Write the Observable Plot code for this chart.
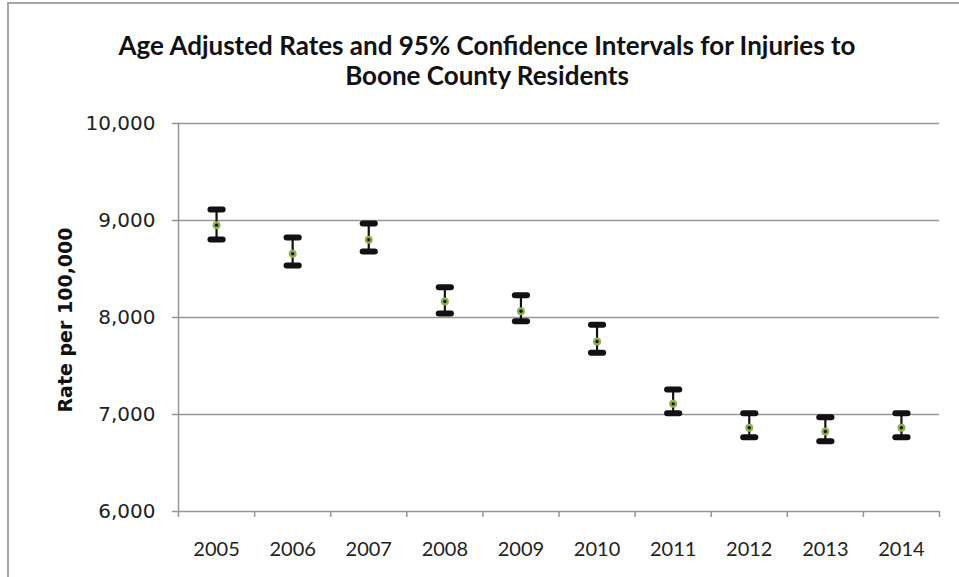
<!DOCTYPE html>
<html>
<head>
<meta charset="utf-8">
<script src="https://cdn.jsdelivr.net/npm/d3@7"></script>
<script src="https://cdn.jsdelivr.net/npm/@observablehq/plot@0.6"></script>
<style>
  html, body { margin: 0; padding: 0; background: #fff; }
  #wrap { position: relative; width: 959px; height: 577px; overflow: hidden; background: #fff; }
  #frame { position: absolute; left: 7px; top: 2px; width: 980px; height: 600px; border: 2px solid #a6a6a6; box-sizing: border-box; pointer-events: none; }
  #title { height: 100px; box-sizing: border-box; padding-top: 30px; padding-left: 15px; text-align: center;
           font-family: Lato, "Open Sans", sans-serif; font-weight: bold; font-size: 26px; line-height: 30px; color: #111; white-space: nowrap; }
  #ylabel { position: absolute; left: 65px; top: 320px; transform: translate(-50%, -50%) rotate(-90deg);
            font-family: "DejaVu Sans", sans-serif; font-weight: bold; font-size: 19px; color: #111; white-space: nowrap; }
  #chart svg { display: block; }
</style>
</head>
<body>
<div id="wrap">
  <div id="title">Age Adjusted Rates and 95% Confidence Intervals for Injuries to<br>Boone County Residents</div>
  <div id="chart"></div>
  <div id="ylabel"></div>
  <div id="frame"></div>
</div>
<script>
const years = [2005, 2006, 2007, 2008, 2009, 2010, 2011, 2012, 2013, 2014];
const rates = [8952, 8657, 8801, 8165, 8065, 7753, 7110, 6863, 6825, 6863];
const lower = [8804, 8536, 8680, 8041, 7962, 7636, 7013, 6766, 6725, 6766];
const upper = [9113, 8825, 8969, 8312, 8230, 7925, 7258, 7013, 6972, 7013];
const yTicks = [6000, 7000, 8000, 9000, 10000];
const yLabel = "Rate per 100,000";

document.getElementById("ylabel").textContent = yLabel;

const data = years.map((y, i) => ({year: y, rate: rates[i], lo: lower[i], hi: upper[i]}));
const boundaries = years.map(y => y - 0.5).concat([years[years.length - 1] + 0.5]);
const capHalf = 0.08;

const chart = Plot.plot({
  width: 959,
  height: 477,
  marginTop: 23,
  marginBottom: 66,
  marginLeft: 178,
  marginRight: 20,
  style: {background: "transparent", fontFamily: "Lato, sans-serif", overflow: "visible"},
  x: {type: "linear", domain: [boundaries[0], boundaries[boundaries.length - 1]]},
  y: {domain: [yTicks[0], yTicks[yTicks.length - 1]]},
  marks: [
    Plot.ruleY(yTicks, {stroke: "#969696", strokeWidth: 1.5}),
    Plot.frame({anchor: "left", stroke: "#969696", strokeWidth: 1.5}),
    Plot.axisY({ticks: yTicks, tickSize: 6, tickPadding: 17, tickFormat: d3.format(","), label: null,
                stroke: "#969696", strokeWidth: 1.5, fontSize: 20, fontFamily: "DejaVu Sans", fill: "#222"}),
    Plot.axisX({ticks: boundaries, tickSize: 6, tickFormat: () => "", label: null,
                stroke: "#969696", strokeWidth: 1.5}),
    Plot.axisX({ticks: years, tickSize: 0, tickPadding: 30, tickFormat: d => String(d), label: null,
                fontSize: 20, fontFamily: "Lato", fill: "#222"}),
    Plot.ruleX(data, {x: "year", y1: "lo", y2: "hi", stroke: "#111", strokeWidth: 2.2}),
    Plot.link(data, {x1: d => d.year - capHalf, x2: d => d.year + capHalf, y1: "hi", y2: "hi",
                stroke: "#111", strokeWidth: 6, strokeLinecap: "round"}),
    Plot.link(data, {x1: d => d.year - capHalf, x2: d => d.year + capHalf, y1: "lo", y2: "lo",
                stroke: "#111", strokeWidth: 6, strokeLinecap: "round"}),
    Plot.dot(data, {x: "year", y: "rate", r: 4, fill: "#8db24c"}),
    Plot.dot(data, {x: "year", y: "rate", r: 1.7, fill: "#111"})
  ]
});
document.getElementById("chart").appendChild(chart);
</script>
</body>
</html>
